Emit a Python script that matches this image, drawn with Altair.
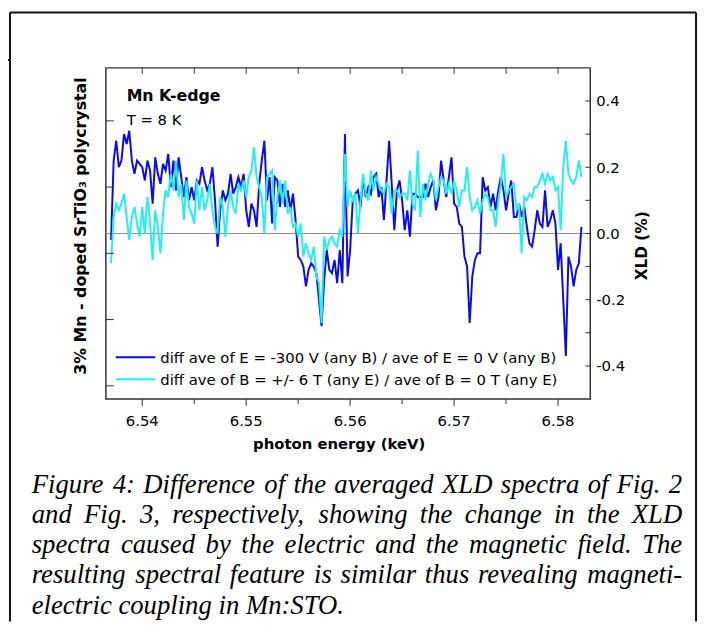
import altair as alt
import pandas as pd

# ---------------- data ----------------
E_START = 6.5370          # keV, first sample
E_STEP = 0.00025          # keV, sampling step

blue_vals = [
    -0.02, 0.22, 0.28, 0.20, 0.22, 0.30, 0.27, 0.31, 0.22, 0.18,
    0.22, 0.21, 0.20, 0.16, 0.22, 0.19, 0.09, 0.23, 0.18, 0.15,
    0.21, 0.19, 0.24, 0.14, 0.22, 0.13, 0.23, 0.17, 0.11, 0.17,
    0.10, 0.14, 0.10, 0.16, 0.15, 0.20, 0.16, 0.13, 0.15, 0.20,
    0.10, -0.04, 0.07, 0.13, 0.10, 0.12, 0.18, 0.12, 0.14, 0.17,
    0.14, 0.18, 0.07, 0.02, 0.09, 0.07, 0.02, 0.15, 0.22, 0.28,
    0.10, 0.17, 0.03, 0.17, 0.16, 0.08, 0.15, 0.08, 0.13, 0.07,
    0.12, 0.04, -0.07, -0.08, -0.10, -0.16, -0.11, -0.09, -0.10, -0.12,
    -0.20, -0.28, -0.14, -0.05, -0.11, -0.12, -0.08, -0.15, -0.05, -0.15,
    0.30, -0.13, -0.05, 0.10, 0.12, 0.13, 0.08, 0.17, 0.11, 0.14,
    0.12, 0.17, 0.18, 0.11, 0.14, 0.04, 0.16, 0.28, 0.15, 0.01,
    0.13, 0.16, 0.10, 0.01, 0.07, -0.01, 0.12, 0.12, 0.11, 0.11,
    0.11, 0.15, 0.11, 0.14, 0.16, 0.07, 0.11, 0.22, 0.16, 0.11,
    0.17, 0.23, 0.09, 0.08, 0.03, 0.02, -0.07, -0.10, -0.27, -0.13,
    -0.08, -0.06, -0.06, 0.17, 0.13, 0.14, 0.08, 0.12, 0.07, 0.13,
    0.17, 0.13, 0.07, 0.12, 0.16, 0.05, 0.05, 0.09, 0.05, 0.08,
    0.02, -0.03, -0.04, 0.01, 0.07, 0.03, 0.02, 0.13, 0.02, 0.04,
    0.07, 0.03, -0.11, -0.03, -0.20, -0.37, -0.07, -0.10, -0.16, -0.11,
    -0.09, 0.02,
]

cyan_vals = [
    -0.09, 0.05, 0.09, 0.07, 0.09, 0.12, 0.05, -0.02, 0.05, 0.08,
    0.03, -0.01, 0.08, 0.00, 0.11, 0.03, -0.08, 0.07, 0.02, -0.06,
    0.06, 0.13, 0.11, 0.18, 0.13, 0.22, 0.11, 0.15, 0.04, 0.16,
    0.08, 0.06, 0.03, 0.16, 0.07, 0.14, 0.07, 0.10, 0.15, 0.07,
    0.02, 0.00, 0.11, 0.08, -0.01, 0.08, 0.13, 0.08, 0.06, 0.15,
    0.13, 0.16, 0.11, 0.17, 0.19, 0.26, 0.17, 0.14, 0.11, 0.00,
    0.17, 0.18, 0.19, 0.01, 0.11, 0.16, 0.09, 0.16, 0.06, 0.08,
    0.02, 0.03, -0.01, 0.03, -0.07, -0.03, -0.06, -0.08, -0.04, -0.13,
    -0.15, -0.27, -0.01, -0.05, -0.02, -0.01, -0.03, -0.04, 0.01, -0.01,
    0.24, 0.08, 0.13, 0.10, 0.12, 0.00, 0.10, 0.18, 0.12, 0.10,
    0.19, 0.13, 0.17, 0.15, 0.13, 0.12, 0.15, 0.14, 0.06, 0.13,
    0.13, 0.11, 0.12, 0.12, 0.10, 0.19, 0.09, 0.07, 0.25, 0.05,
    0.15, 0.10, 0.15, 0.18, 0.16, 0.10, 0.14, 0.17, 0.16, 0.12,
    0.15, 0.12, 0.16, 0.13, 0.08, 0.13, 0.13, 0.20, 0.11, 0.07,
    0.08, 0.10, 0.06, 0.10, 0.12, 0.11, 0.07, 0.07, 0.02, 0.10,
    0.15, 0.24, 0.11, 0.13, 0.14, 0.15, 0.07, 0.09, -0.06, 0.11,
    0.10, 0.12, 0.11, 0.14, 0.14, 0.16, 0.18, 0.15, 0.18, 0.16,
    0.17, 0.13, 0.14, 0.01, 0.20, 0.28, 0.18, 0.16, 0.15, 0.17,
    0.22, 0.17,
]

series_names = [
    "diff ave of E = -300 V (any B) / ave of E = 0 V (any B)",
    "diff ave of B = +/- 6 T (any E) / ave of B = 0 T (any E)",
]
series_colors = ["#0a0aee", "#22f0f0"]

x_label_ticks = [6.54, 6.55, 6.56, 6.57, 6.58]
x_label_text = ["6.54", "6.55", "6.56", "6.57", "6.58"]
x_minor_ticks = [6.545, 6.555, 6.565, 6.575]
x_top_ticks = [6.54, 6.545, 6.55, 6.555, 6.56, 6.565, 6.57, 6.575, 6.58]
y_label_ticks = [-0.4, -0.2, 0.0, 0.2, 0.4]
y_label_text = ["-0.4", "-0.2", "0.0", "0.2", "0.4"]
y_all_ticks = [-0.4, -0.3, -0.2, -0.1, 0.0, 0.1, 0.2, 0.3, 0.4]
left_axis_ticks = [0.34, 0.14, -0.06, -0.26, -0.46]

caption_lines = [
    "Figure 4: Difference of the averaged XLD spectra of Fig. 2",
    "and Fig. 3, respectively, showing the change in the XLD",
    "spectra caused by the electric and the magnetic field. The",
    "resulting spectral feature is similar thus revealing magneti-",
    "electric coupling in Mn:STO.",
]

# ---------------- chart ----------------
W, H = 490, 335
AX = "#333333"
SANS = "DejaVu Sans"
SERIF = "Liberation Serif"

xs = alt.Scale(domain=[6.5365, 6.5831], nice=False, zero=False)
ys = alt.Scale(domain=[-0.5, 0.5], nice=False, zero=False)


def series_df(vals, name):
    return pd.DataFrame({
        "E": [round(E_START + E_STEP * i, 6) for i in range(len(vals))],
        "v": vals,
        "series": name,
    })


blue_df = series_df(blue_vals, series_names[0])
cyan_df = series_df(cyan_vals, series_names[1])

blue_line = alt.Chart(blue_df).mark_line(strokeWidth=2, color=series_colors[0]).encode(
    x=alt.X("E:Q", scale=xs, axis=None),
    y=alt.Y("v:Q", scale=ys, axis=None),
)
cyan_line = alt.Chart(cyan_df).mark_line(strokeWidth=2, color=series_colors[1]).encode(
    x=alt.X("E:Q", scale=xs, axis=None),
    y=alt.Y("v:Q", scale=ys, axis=None),
)

zero_line = alt.Chart(pd.DataFrame({"v": [0.0]})).mark_rule(color="#8a8a8a", strokeWidth=1).encode(
    y=alt.Y("v:Q", scale=ys, axis=None)
)


def xtick(vals, y1, y2):
    return alt.Chart(pd.DataFrame({"E": vals})).mark_rule(color=AX, strokeWidth=1).encode(
        x=alt.X("E:Q", scale=xs, axis=None), y=alt.value(y1), y2=alt.value(y2)
    )


def ytick(vals, x1, x2):
    return alt.Chart(pd.DataFrame({"v": vals})).mark_rule(color=AX, strokeWidth=1).encode(
        y=alt.Y("v:Q", scale=ys, axis=None), x=alt.value(x1), x2=alt.value(x2)
    )


ticks = [
    xtick(x_top_ticks, 0, 6),
    xtick(x_label_ticks, H, H + 7),
    xtick(x_minor_ticks, H, H + 5),
    ytick(y_all_ticks, W - 5, W),
    ytick(left_axis_ticks, 0, 8),
]

x_labels = alt.Chart(pd.DataFrame({"E": x_label_ticks, "lab": x_label_text})).mark_text(
    align="center", baseline="alphabetic", font=SANS, fontSize=15, color="black"
).encode(x=alt.X("E:Q", scale=xs, axis=None), y=alt.value(362), text="lab:N")

y_labels = alt.Chart(pd.DataFrame({"v": y_label_ticks, "lab": y_label_text})).mark_text(
    align="left", baseline="alphabetic", dy=5.5, font=SANS, fontSize=15, color="black"
).encode(y=alt.Y("v:Q", scale=ys, axis=None), x=alt.value(496), text="lab:N")


def txt(s, x, y, size, weight="normal", angle=0, align="left",
        baseline="alphabetic", font=SANS, style="normal", color="black"):
    return alt.Chart(pd.DataFrame({"t": [s]})).mark_text(
        align=align, baseline=baseline, angle=angle, font=font, fontSize=size,
        fontWeight=weight, fontStyle=style, color=color
    ).encode(x=alt.value(x), y=alt.value(y), text="t:N")


def seg(x1, y1, x2, y2, color="#111111", width=2):
    return alt.Chart(pd.DataFrame({"a": [0]})).mark_rule(color=color, strokeWidth=width).encode(
        x=alt.value(x1), x2=alt.value(x2), y=alt.value(y1), y2=alt.value(y2)
    )


texts = [
    txt("Mn K-edge", 21, 34, 16, weight="bold"),
    txt("T = 8 K", 21, 58, 15),
    txt("3% Mn - doped SrTiO\u2083 polycrystal", -25, 160, 16, weight="bold",
        angle=270, align="center", baseline="middle"),
    txt("XLD (%)", 542, 180, 15.5, weight="bold", angle=270, align="center",
        baseline="middle"),
    txt("photon energy (keV)", 236, 386, 15, weight="bold", align="center"),
]
for i, ly in enumerate([292.7, 315.0]):
    texts.append(seg(10, ly, 50, ly, color=series_colors[i], width=2))
    texts.append(txt(series_names[i], 55, ly + 5.6, 15))

# ---- justified caption (Times italic advance widths, 1/1000 em) ----
TI = {" ": 250, ",": 250, ".": 250, ":": 333, "-": 333,
      "0": 500, "1": 500, "2": 500, "3": 500, "4": 500,
      "a": 500, "b": 500, "c": 444, "d": 500, "e": 444, "f": 278, "g": 500,
      "h": 500, "i": 278, "j": 278, "k": 444, "l": 278, "m": 722, "n": 500,
      "o": 500, "p": 500, "q": 500, "r": 389, "s": 389, "t": 278, "u": 500,
      "v": 444, "w": 667, "x": 444, "y": 444, "z": 389,
      "D": 722, "F": 611, "L": 556, "M": 833, "O": 722, "S": 500, "T": 556,
      "X": 611}
CAP_SIZE = 27
CAP_LEFT, CAP_RIGHT = -75, 583
cap_y = [430, 460.5, 491, 521.5, 552]


def word_w(w):
    return sum(TI.get(c, 500) for c in w) * CAP_SIZE / 1000.0


rows = []
for li, (line, cy) in enumerate(zip(caption_lines, cap_y)):
    words = line.split(" ")
    if li < len(caption_lines) - 1 and len(words) > 1:
        total = sum(word_w(w) for w in words)
        gap = (CAP_RIGHT - CAP_LEFT - total) / (len(words) - 1)
        xpos = CAP_LEFT
        for wi, w in enumerate(words):
            if wi == len(words) - 1:
                rows.append({"w": w, "px": CAP_RIGHT, "py": cy, "al": "right"})
            else:
                rows.append({"w": w, "px": xpos, "py": cy, "al": "left"})
            xpos += word_w(w) + gap
    else:
        rows.append({"w": line, "px": CAP_LEFT, "py": cy, "al": "left"})

cap_df = pd.DataFrame(rows)
cap_left = alt.Chart(cap_df[cap_df.al == "left"]).mark_text(
    align="left", baseline="alphabetic", font=SERIF, fontSize=CAP_SIZE,
    fontStyle="italic", color="black"
).encode(x=alt.X("px:Q", scale=None, axis=None), y=alt.Y("py:Q", scale=None, axis=None), text="w:N")
cap_right = alt.Chart(cap_df[cap_df.al == "right"]).mark_text(
    align="right", baseline="alphabetic", font=SERIF, fontSize=CAP_SIZE,
    fontStyle="italic", color="black"
).encode(x=alt.X("px:Q", scale=None, axis=None), y=alt.Y("py:Q", scale=None, axis=None), text="w:N")

frame = [
    seg(-97, -56, 597, -56),
    seg(-97, -56, -97, 560),
    seg(597, -56, 597, 560),
    seg(-110, -8, -97, -8),
]

chart = alt.layer(
    zero_line, blue_line, cyan_line, *ticks, x_labels, y_labels,
    *texts, cap_left, cap_right, *frame
).resolve_scale(x="independent", y="independent").properties(
    width=W, height=H,
    autosize=alt.AutoSizeParams(type="none"),
    padding={"left": 99, "top": 57, "right": 111, "bottom": 225},
).configure_view(stroke=AX, strokeWidth=1.5)

chart.save("out.html", embed_options={"renderer": "svg", "actions": False})
